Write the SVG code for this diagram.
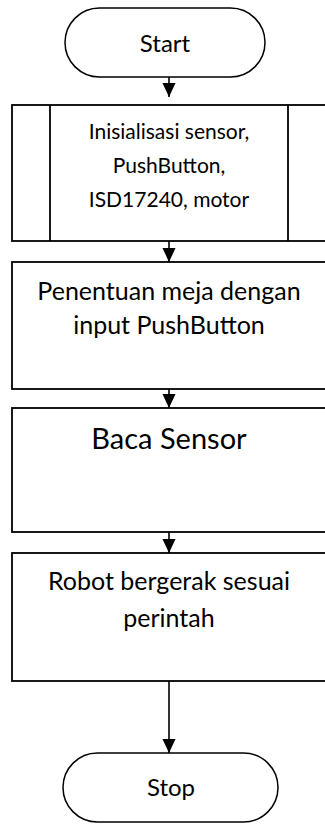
<svg xmlns="http://www.w3.org/2000/svg" width="325" height="824" viewBox="0 0 325 824">
<style>
.shape{fill:#fff;stroke:#000;stroke-width:1.8}
.term{fill:#fff;stroke:#000;stroke-width:1.5}
.conn{fill:none;stroke:#000;stroke-width:1.6}
.t{font-family:Lato,"Open Sans",sans-serif;fill:#000;text-anchor:middle}
</style>
<defs>
<marker id="ah" markerUnits="userSpaceOnUse" markerWidth="14" markerHeight="16" refX="15" refY="7" orient="auto" viewBox="0 0 15 14">
<path d="M0,0 L15,7 L0,14 Z" fill="#000"/>
</marker>
</defs>
<rect width="325" height="824" fill="#fff"/>
<g id="connectors">
<path class="conn" d="M169,77 V97" marker-end="url(#ah)"/>
<path class="conn" d="M169,241 V262" marker-end="url(#ah)"/>
<path class="conn" d="M169,389 V408" marker-end="url(#ah)"/>
<path class="conn" d="M169,532 V553" marker-end="url(#ah)"/>
<path class="conn" d="M169,681 V753" stroke-width="2.4" marker-end="url(#ah)"/>
</g>
<g id="start">
<rect class="term" x="65" y="8" width="200" height="69" rx="34.5"/>
<text class="t" x="165" y="52" font-size="24">Start</text>
</g>
<g id="init">
<rect class="shape" x="12" y="105" width="315" height="136"/>
<line class="shape" x1="50" y1="105" x2="50" y2="241"/>
<line class="shape" x1="288" y1="105" x2="288" y2="241"/>
<text class="t" font-size="21"><tspan x="169" y="139">Inisialisasi sensor,</tspan><tspan x="169" y="173">PushButton,</tspan><tspan x="169" y="207">ISD17240, motor</tspan></text>
</g>
<g id="penentuan">
<rect class="shape" x="12" y="262" width="315" height="127"/>
<text class="t" font-size="25"><tspan x="169" y="300">Penentuan meja dengan</tspan><tspan x="169" y="334">input PushButton</tspan></text>
</g>
<g id="baca">
<rect class="shape" x="12" y="408" width="315" height="124"/>
<text class="t" x="169" y="449" font-size="29">Baca Sensor</text>
</g>
<g id="robot">
<rect class="shape" x="12" y="553" width="315" height="128"/>
<text class="t" font-size="25"><tspan x="169" y="590">Robot bergerak sesuai</tspan><tspan x="169" y="627">perintah</tspan></text>
</g>
<g id="stop">
<rect class="term" x="63" y="753" width="215" height="69" rx="34.5"/>
<text class="t" x="171" y="796" font-size="24">Stop</text>
</g>
</svg>
